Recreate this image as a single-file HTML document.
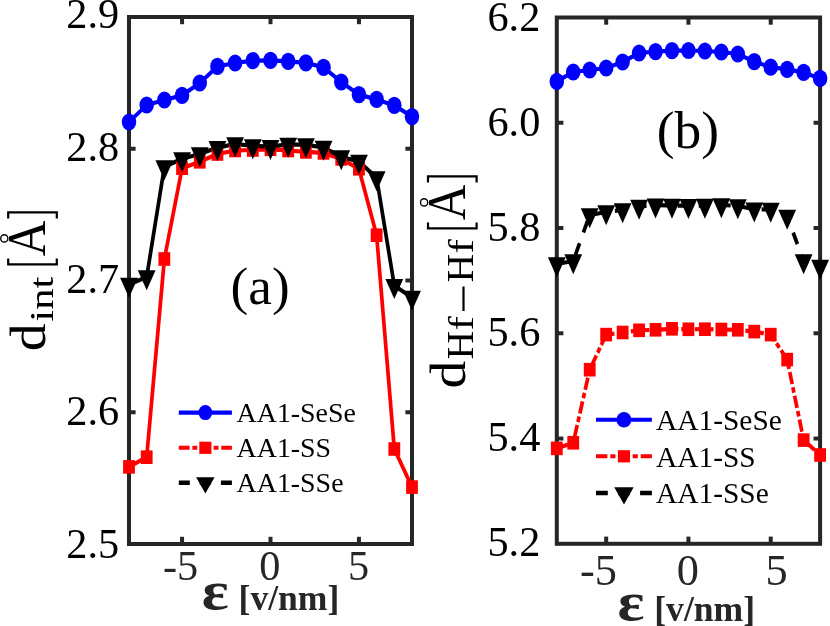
<!DOCTYPE html>
<html><head><meta charset="utf-8"><title>chart</title>
<style>html,body{margin:0;padding:0;background:#fff;}svg{display:block;font-family:"Liberation Serif",serif;will-change:transform;}</style>
</head><body>
<svg width="830" height="626" viewBox="0 0 830 626">
<rect width="830" height="626" fill="#fff"/>
<rect x="129.0" y="17.0" width="283.0" height="527.0" fill="none" stroke="#262626" stroke-width="4"/>
<line x1="182.06" y1="544.0" x2="182.06" y2="536.8" stroke="#262626" stroke-width="4"/>
<line x1="182.06" y1="17.0" x2="182.06" y2="24.2" stroke="#262626" stroke-width="4"/>
<line x1="270.50" y1="544.0" x2="270.50" y2="536.8" stroke="#262626" stroke-width="4"/>
<line x1="270.50" y1="17.0" x2="270.50" y2="24.2" stroke="#262626" stroke-width="4"/>
<line x1="358.94" y1="544.0" x2="358.94" y2="536.8" stroke="#262626" stroke-width="4"/>
<line x1="358.94" y1="17.0" x2="358.94" y2="24.2" stroke="#262626" stroke-width="4"/>
<line x1="129.0" y1="148.75" x2="135.6" y2="148.75" stroke="#262626" stroke-width="4"/>
<line x1="412.0" y1="148.75" x2="405.4" y2="148.75" stroke="#262626" stroke-width="4"/>
<line x1="129.0" y1="280.50" x2="135.6" y2="280.50" stroke="#262626" stroke-width="4"/>
<line x1="412.0" y1="280.50" x2="405.4" y2="280.50" stroke="#262626" stroke-width="4"/>
<line x1="129.0" y1="412.25" x2="135.6" y2="412.25" stroke="#262626" stroke-width="4"/>
<line x1="412.0" y1="412.25" x2="405.4" y2="412.25" stroke="#262626" stroke-width="4"/>
<rect x="556.8" y="17.5" width="263.30000000000007" height="526.3" fill="none" stroke="#262626" stroke-width="4"/>
<line x1="606.17" y1="543.8" x2="606.17" y2="536.5999999999999" stroke="#262626" stroke-width="4"/>
<line x1="606.17" y1="17.5" x2="606.17" y2="24.7" stroke="#262626" stroke-width="4"/>
<line x1="688.45" y1="543.8" x2="688.45" y2="536.5999999999999" stroke="#262626" stroke-width="4"/>
<line x1="688.45" y1="17.5" x2="688.45" y2="24.7" stroke="#262626" stroke-width="4"/>
<line x1="770.73" y1="543.8" x2="770.73" y2="536.5999999999999" stroke="#262626" stroke-width="4"/>
<line x1="770.73" y1="17.5" x2="770.73" y2="24.7" stroke="#262626" stroke-width="4"/>
<line x1="556.8" y1="122.76" x2="563.4" y2="122.76" stroke="#262626" stroke-width="4"/>
<line x1="820.1" y1="122.76" x2="813.5" y2="122.76" stroke="#262626" stroke-width="4"/>
<line x1="556.8" y1="228.02" x2="563.4" y2="228.02" stroke="#262626" stroke-width="4"/>
<line x1="820.1" y1="228.02" x2="813.5" y2="228.02" stroke="#262626" stroke-width="4"/>
<line x1="556.8" y1="333.28" x2="563.4" y2="333.28" stroke="#262626" stroke-width="4"/>
<line x1="820.1" y1="333.28" x2="813.5" y2="333.28" stroke="#262626" stroke-width="4"/>
<line x1="556.8" y1="438.54" x2="563.4" y2="438.54" stroke="#262626" stroke-width="4"/>
<line x1="820.1" y1="438.54" x2="813.5" y2="438.54" stroke="#262626" stroke-width="4"/>
<text x="119.2" y="28.40" font-size="42.3" text-anchor="end" fill="#000">2.9</text>
<text x="119.2" y="160.75" font-size="42.3" text-anchor="end" fill="#000">2.8</text>
<text x="119.2" y="293.10" font-size="42.3" text-anchor="end" fill="#000">2.7</text>
<text x="119.2" y="425.45" font-size="42.3" text-anchor="end" fill="#000">2.6</text>
<text x="119.2" y="557.80" font-size="42.3" text-anchor="end" fill="#000">2.5</text>
<text x="540.3" y="30.50" font-size="42.3" text-anchor="end" fill="#000">6.2</text>
<text x="540.3" y="135.56" font-size="42.3" text-anchor="end" fill="#000">6.0</text>
<text x="540.3" y="240.62" font-size="42.3" text-anchor="end" fill="#000">5.8</text>
<text x="540.3" y="345.68" font-size="42.3" text-anchor="end" fill="#000">5.6</text>
<text x="540.3" y="450.74" font-size="42.3" text-anchor="end" fill="#000">5.4</text>
<text x="540.3" y="555.80" font-size="42.3" text-anchor="end" fill="#000">5.2</text>
<text x="180.50" y="580.3" font-size="42.3" text-anchor="middle" fill="#262626">-5</text>
<text x="269.90" y="580.3" font-size="42.3" text-anchor="middle" fill="#262626">0</text>
<text x="358.60" y="580.3" font-size="42.3" text-anchor="middle" fill="#262626">5</text>
<text x="598.50" y="585.0" font-size="44.4" text-anchor="middle" fill="#262626">-5</text>
<text x="687.90" y="585.0" font-size="44.4" text-anchor="middle" fill="#262626">0</text>
<text x="776.60" y="585.0" font-size="44.4" text-anchor="middle" fill="#262626">5</text>
<text transform="translate(201.80,609.00) scale(1.17,1)" font-size="54" font-weight="bold" fill="#262626">&#949;</text>
<text x="238.57" y="610.40" font-size="35.6" font-weight="bold" fill="#262626">[v/nm]</text>
<text transform="translate(617.50,620.00) scale(1.17,1)" font-size="54" font-weight="bold" fill="#262626">&#949;</text>
<text x="654.27" y="621.40" font-size="35.6" font-weight="bold" fill="#262626">[v/nm]</text>
<g transform="translate(45.4,349.3) rotate(-90)" fill="#000">
<text transform="translate(-2.01,0.00) scale(1.0996,1)" font-size="50.7">d</text>
<text transform="translate(27.61,7.40) scale(1.2338,1)" font-size="34.5">int</text>
<path d="M90.90 -37.20 H84.90 V11.40 H90.90" fill="none" stroke="#000" stroke-width="2.2"/>
<path d="M130.90 -37.20 H136.90 V11.40 H130.90" fill="none" stroke="#000" stroke-width="2.2"/>
<text transform="translate(93.06,-0.5) scale(0.9094,1)" font-size="54.2">A</text>
<circle cx="110.90" cy="-41.1" r="3.6" fill="#fff" stroke="#000" stroke-width="1.4"/>
</g>
<g transform="translate(465.2,386.5) rotate(-90)" fill="#000">
<text transform="translate(-2.00,0.00) scale(1.0953,1)" font-size="50.7">d</text>
<text transform="translate(27.09,7.30) scale(1.0660,1)" font-size="37.1">H</text>
<text transform="translate(56.11,7.30) scale(1.1806,1)" font-size="36.5">f</text>
<rect x="75.5" y="-2.8" width="24.5" height="2.2"/>
<text transform="translate(104.09,7.30) scale(1.0660,1)" font-size="37.1">H</text>
<text transform="translate(133.01,7.30) scale(1.1806,1)" font-size="36.5">f</text>
<path d="M164.10 -37.20 H158.10 V11.40 H164.10" fill="none" stroke="#000" stroke-width="2.2"/>
<path d="M204.10 -37.20 H210.10 V11.40 H204.10" fill="none" stroke="#000" stroke-width="2.2"/>
<text transform="translate(166.26,-0.5) scale(0.9094,1)" font-size="54.2">A</text>
<circle cx="184.10" cy="-41.1" r="3.6" fill="#fff" stroke="#000" stroke-width="1.4"/>
</g>
<text x="230.6" y="304.4" font-size="53.2" fill="#000">(a)</text>
<text x="656.7" y="147.6" font-size="53.4" fill="#000">(b)</text>
<g transform="scale(1,1.14)">
<polyline points="129.00,107.02 146.69,92.11 164.38,87.72 182.06,83.68 199.75,72.81 217.44,58.25 235.12,55.26 252.81,53.16 270.50,52.98 288.19,53.86 305.88,55.09 323.56,59.12 341.25,71.93 358.94,82.98 376.62,87.19 394.31,92.46 412.00,102.28" fill="none" stroke="#0000ff" stroke-width="3.7" stroke-linejoin="round"/>
<polyline points="129.00,409.56 146.69,401.05 164.38,227.19 182.06,147.54 199.75,141.93 217.44,135.09 235.12,132.02 252.81,131.58 270.50,130.96 288.19,132.02 305.88,133.25 323.56,134.12 341.25,139.39 358.94,148.07 376.62,206.32 394.31,393.86 412.00,427.28" fill="none" stroke="#ff0000" stroke-width="3.7" stroke-linejoin="round"/>
<polyline points="129.00,249.47 146.69,242.98 164.38,146.32 182.06,139.30 199.75,135.09 217.44,129.47 235.12,126.32 252.81,127.89 270.50,128.68 288.19,126.58 305.88,127.02 323.56,129.21 341.25,137.63 358.94,141.67 376.62,155.96 394.31,250.53 412.00,260.96" fill="none" stroke="#000000" stroke-width="3.7" stroke-linejoin="round"/>
<polyline points="556.80,71.40 573.26,63.16 589.71,61.40 606.17,59.65 622.62,54.39 639.08,46.49 655.54,45.26 671.99,44.39 688.45,44.30 704.91,44.74 721.36,45.61 737.82,47.37 754.27,54.04 770.73,58.95 787.19,60.79 803.64,63.51 820.10,68.77" fill="none" stroke="#0000ff" stroke-width="3.7" stroke-linejoin="round"/>
<polyline points="556.80,393.33 573.26,388.42 589.71,324.30 606.17,293.51 622.62,291.67 639.08,289.74 655.54,289.30 671.99,288.42 688.45,288.86 704.91,288.77 721.36,289.04 737.82,289.30 754.27,290.88 770.73,293.51 787.19,315.44 803.64,386.05 820.10,399.12" fill="none" stroke="#ff0000" stroke-width="3.7" stroke-linejoin="round" stroke-dasharray="10.9 2.8 4.9 2.8" stroke-dashoffset="-1.0"/>
<polyline points="556.80,231.58 573.26,228.95 589.71,188.60 606.17,185.96 622.62,184.12 639.08,181.05 655.54,179.91 671.99,180.26 688.45,180.44 704.91,180.26 721.36,179.82 737.82,180.61 754.27,183.42 770.73,183.77 787.19,189.91 803.64,228.95 820.10,233.77" fill="none" stroke="#000000" stroke-width="3.7" stroke-linejoin="round" stroke-dasharray="10.9 10.15" stroke-dashoffset="-1.5"/>
</g>
<ellipse cx="129.00" cy="122.00" rx="7.25" ry="8.6" fill="#0000ff"/>
<ellipse cx="146.69" cy="105.00" rx="7.25" ry="8.6" fill="#0000ff"/>
<ellipse cx="164.38" cy="100.00" rx="7.25" ry="8.6" fill="#0000ff"/>
<ellipse cx="182.06" cy="95.40" rx="7.25" ry="8.6" fill="#0000ff"/>
<ellipse cx="199.75" cy="83.00" rx="7.25" ry="8.6" fill="#0000ff"/>
<ellipse cx="217.44" cy="66.40" rx="7.25" ry="8.6" fill="#0000ff"/>
<ellipse cx="235.12" cy="63.00" rx="7.25" ry="8.6" fill="#0000ff"/>
<ellipse cx="252.81" cy="60.60" rx="7.25" ry="8.6" fill="#0000ff"/>
<ellipse cx="270.50" cy="60.40" rx="7.25" ry="8.6" fill="#0000ff"/>
<ellipse cx="288.19" cy="61.40" rx="7.25" ry="8.6" fill="#0000ff"/>
<ellipse cx="305.88" cy="62.80" rx="7.25" ry="8.6" fill="#0000ff"/>
<ellipse cx="323.56" cy="67.40" rx="7.25" ry="8.6" fill="#0000ff"/>
<ellipse cx="341.25" cy="82.00" rx="7.25" ry="8.6" fill="#0000ff"/>
<ellipse cx="358.94" cy="94.60" rx="7.25" ry="8.6" fill="#0000ff"/>
<ellipse cx="376.62" cy="99.40" rx="7.25" ry="8.6" fill="#0000ff"/>
<ellipse cx="394.31" cy="105.40" rx="7.25" ry="8.6" fill="#0000ff"/>
<ellipse cx="412.00" cy="116.60" rx="7.25" ry="8.6" fill="#0000ff"/>
<rect x="123.10" y="460.10" width="11.8" height="13.6" fill="#ff0000"/>
<rect x="140.79" y="450.40" width="11.8" height="13.6" fill="#ff0000"/>
<rect x="158.47" y="252.20" width="11.8" height="13.6" fill="#ff0000"/>
<rect x="176.16" y="161.40" width="11.8" height="13.6" fill="#ff0000"/>
<rect x="193.85" y="155.00" width="11.8" height="13.6" fill="#ff0000"/>
<rect x="211.54" y="147.20" width="11.8" height="13.6" fill="#ff0000"/>
<rect x="229.22" y="143.70" width="11.8" height="13.6" fill="#ff0000"/>
<rect x="246.91" y="143.20" width="11.8" height="13.6" fill="#ff0000"/>
<rect x="264.60" y="142.50" width="11.8" height="13.6" fill="#ff0000"/>
<rect x="282.29" y="143.70" width="11.8" height="13.6" fill="#ff0000"/>
<rect x="299.98" y="145.10" width="11.8" height="13.6" fill="#ff0000"/>
<rect x="317.66" y="146.10" width="11.8" height="13.6" fill="#ff0000"/>
<rect x="335.35" y="152.10" width="11.8" height="13.6" fill="#ff0000"/>
<rect x="353.04" y="162.00" width="11.8" height="13.6" fill="#ff0000"/>
<rect x="370.73" y="228.40" width="11.8" height="13.6" fill="#ff0000"/>
<rect x="388.41" y="442.20" width="11.8" height="13.6" fill="#ff0000"/>
<rect x="406.10" y="480.30" width="11.8" height="13.6" fill="#ff0000"/>
<polygon points="120.10,277.73 137.90,277.73 129.00,297.73" fill="#000"/>
<polygon points="137.79,270.33 155.59,270.33 146.69,290.33" fill="#000"/>
<polygon points="155.47,160.13 173.28,160.13 164.38,180.13" fill="#000"/>
<polygon points="173.16,152.13 190.96,152.13 182.06,172.13" fill="#000"/>
<polygon points="190.85,147.33 208.65,147.33 199.75,167.33" fill="#000"/>
<polygon points="208.54,140.93 226.34,140.93 217.44,160.93" fill="#000"/>
<polygon points="226.22,137.33 244.03,137.33 235.12,157.33" fill="#000"/>
<polygon points="243.91,139.13 261.71,139.13 252.81,159.13" fill="#000"/>
<polygon points="261.60,140.03 279.40,140.03 270.50,160.03" fill="#000"/>
<polygon points="279.29,137.63 297.09,137.63 288.19,157.63" fill="#000"/>
<polygon points="296.98,138.13 314.77,138.13 305.88,158.13" fill="#000"/>
<polygon points="314.66,140.63 332.46,140.63 323.56,160.63" fill="#000"/>
<polygon points="332.35,150.23 350.15,150.23 341.25,170.23" fill="#000"/>
<polygon points="350.04,154.83 367.84,154.83 358.94,174.83" fill="#000"/>
<polygon points="367.73,171.13 385.52,171.13 376.62,191.13" fill="#000"/>
<polygon points="385.41,278.93 403.21,278.93 394.31,298.93" fill="#000"/>
<polygon points="403.10,290.83 420.90,290.83 412.00,310.83" fill="#000"/>
<ellipse cx="556.80" cy="81.40" rx="7.25" ry="8.6" fill="#0000ff"/>
<ellipse cx="573.26" cy="72.00" rx="7.25" ry="8.6" fill="#0000ff"/>
<ellipse cx="589.71" cy="70.00" rx="7.25" ry="8.6" fill="#0000ff"/>
<ellipse cx="606.17" cy="68.00" rx="7.25" ry="8.6" fill="#0000ff"/>
<ellipse cx="622.62" cy="62.00" rx="7.25" ry="8.6" fill="#0000ff"/>
<ellipse cx="639.08" cy="53.00" rx="7.25" ry="8.6" fill="#0000ff"/>
<ellipse cx="655.54" cy="51.60" rx="7.25" ry="8.6" fill="#0000ff"/>
<ellipse cx="671.99" cy="50.60" rx="7.25" ry="8.6" fill="#0000ff"/>
<ellipse cx="688.45" cy="50.50" rx="7.25" ry="8.6" fill="#0000ff"/>
<ellipse cx="704.91" cy="51.00" rx="7.25" ry="8.6" fill="#0000ff"/>
<ellipse cx="721.36" cy="52.00" rx="7.25" ry="8.6" fill="#0000ff"/>
<ellipse cx="737.82" cy="54.00" rx="7.25" ry="8.6" fill="#0000ff"/>
<ellipse cx="754.27" cy="61.60" rx="7.25" ry="8.6" fill="#0000ff"/>
<ellipse cx="770.73" cy="67.20" rx="7.25" ry="8.6" fill="#0000ff"/>
<ellipse cx="787.19" cy="69.30" rx="7.25" ry="8.6" fill="#0000ff"/>
<ellipse cx="803.64" cy="72.40" rx="7.25" ry="8.6" fill="#0000ff"/>
<ellipse cx="820.10" cy="78.40" rx="7.25" ry="8.6" fill="#0000ff"/>
<rect x="550.90" y="441.60" width="11.8" height="13.6" fill="#ff0000"/>
<rect x="567.36" y="436.00" width="11.8" height="13.6" fill="#ff0000"/>
<rect x="583.81" y="362.90" width="11.8" height="13.6" fill="#ff0000"/>
<rect x="600.27" y="327.80" width="11.8" height="13.6" fill="#ff0000"/>
<rect x="616.73" y="325.70" width="11.8" height="13.6" fill="#ff0000"/>
<rect x="633.18" y="323.50" width="11.8" height="13.6" fill="#ff0000"/>
<rect x="649.64" y="323.00" width="11.8" height="13.6" fill="#ff0000"/>
<rect x="666.09" y="322.00" width="11.8" height="13.6" fill="#ff0000"/>
<rect x="682.55" y="322.50" width="11.8" height="13.6" fill="#ff0000"/>
<rect x="699.01" y="322.40" width="11.8" height="13.6" fill="#ff0000"/>
<rect x="715.46" y="322.70" width="11.8" height="13.6" fill="#ff0000"/>
<rect x="731.92" y="323.00" width="11.8" height="13.6" fill="#ff0000"/>
<rect x="748.38" y="324.80" width="11.8" height="13.6" fill="#ff0000"/>
<rect x="764.83" y="327.80" width="11.8" height="13.6" fill="#ff0000"/>
<rect x="781.29" y="352.80" width="11.8" height="13.6" fill="#ff0000"/>
<rect x="797.74" y="433.30" width="11.8" height="13.6" fill="#ff0000"/>
<rect x="814.20" y="448.20" width="11.8" height="13.6" fill="#ff0000"/>
<polygon points="547.90,257.33 565.70,257.33 556.80,277.33" fill="#000"/>
<polygon points="564.36,254.33 582.16,254.33 573.26,274.33" fill="#000"/>
<polygon points="580.81,208.33 598.61,208.33 589.71,228.33" fill="#000"/>
<polygon points="597.27,205.33 615.07,205.33 606.17,225.33" fill="#000"/>
<polygon points="613.73,203.23 631.52,203.23 622.62,223.23" fill="#000"/>
<polygon points="630.18,199.73 647.98,199.73 639.08,219.73" fill="#000"/>
<polygon points="646.64,198.43 664.44,198.43 655.54,218.43" fill="#000"/>
<polygon points="663.09,198.83 680.89,198.83 671.99,218.83" fill="#000"/>
<polygon points="679.55,199.03 697.35,199.03 688.45,219.03" fill="#000"/>
<polygon points="696.01,198.83 713.81,198.83 704.91,218.83" fill="#000"/>
<polygon points="712.46,198.33 730.26,198.33 721.36,218.33" fill="#000"/>
<polygon points="728.92,199.23 746.72,199.23 737.82,219.23" fill="#000"/>
<polygon points="745.38,202.43 763.17,202.43 754.27,222.43" fill="#000"/>
<polygon points="761.83,202.83 779.63,202.83 770.73,222.83" fill="#000"/>
<polygon points="778.29,209.83 796.09,209.83 787.19,229.83" fill="#000"/>
<polygon points="794.74,254.33 812.54,254.33 803.64,274.33" fill="#000"/>
<polygon points="811.20,259.83 829.00,259.83 820.10,279.83" fill="#000"/>
<line x1="178.8" y1="412.6" x2="231.9" y2="412.6" stroke="#0000ff" stroke-width="4.05"/>
<ellipse cx="205.35" cy="412.6" rx="6.9" ry="7.5" fill="#0000ff"/>
<line x1="178.8" y1="447.8" x2="231.9" y2="447.8" stroke="#ff0000" stroke-width="4.05" stroke-dasharray="10.82 2.78 4.86 2.78"/>
<rect x="199.30" y="441.70" width="12.1" height="12.2" fill="#ff0000"/>
<line x1="178.8" y1="482.7" x2="231.9" y2="482.7" stroke="#000" stroke-width="4.35" stroke-dasharray="11.0 10.05"/>
<polygon points="196.10,477.33 214.60,477.33 205.35,493.43" fill="#000"/>
<text x="236.6" y="421.6" font-size="27.9" fill="#000">AA1-SeSe</text>
<text x="236.6" y="456.8" font-size="27.9" fill="#000">AA1-SS</text>
<text x="236.6" y="492.2" font-size="27.9" fill="#000">AA1-SSe</text>
<line x1="596.0" y1="419.8" x2="651.9" y2="419.8" stroke="#0000ff" stroke-width="4.05"/>
<ellipse cx="623.95" cy="419.8" rx="7.4" ry="7.7" fill="#0000ff"/>
<line x1="596.0" y1="456.3" x2="651.9" y2="456.3" stroke="#ff0000" stroke-width="4.05" stroke-dasharray="11.39 2.93 5.12 2.93"/>
<rect x="617.90" y="450.20" width="12.1" height="12.2" fill="#ff0000"/>
<line x1="596.0" y1="493.0" x2="651.9" y2="493.0" stroke="#000" stroke-width="4.35" stroke-dasharray="11.8 10.25"/>
<polygon points="614.25,487.30 633.65,487.30 623.95,504.40" fill="#000"/>
<text x="656.1" y="429.5" font-size="29.4" fill="#000">AA1-SeSe</text>
<text x="656.1" y="466.6" font-size="29.4" fill="#000">AA1-SS</text>
<text x="656.1" y="502.7" font-size="29.4" fill="#000">AA1-SSe</text>
</svg>
</body></html>
